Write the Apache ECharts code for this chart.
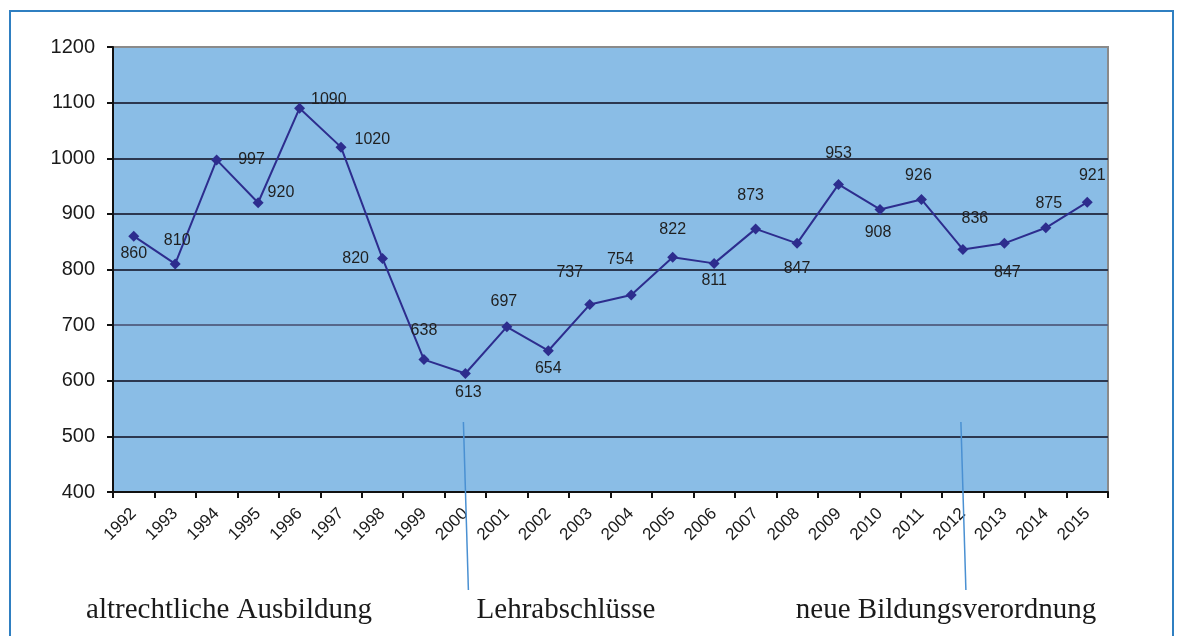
<!DOCTYPE html>
<html>
<head>
<meta charset="utf-8">
<script src="https://cdn.jsdelivr.net/npm/echarts@6/dist/echarts.min.js"></script>
<style>
html,body{margin:0;padding:0;background:#fff;}
#chart{width:1178px;height:636px;}
</style>
</head>
<body>
<div id="chart"></div>
<script>
// ---- data ----
var years = ['1992','1993','1994','1995','1996','1997','1998','1999','2000','2001','2002','2003','2004','2005','2006','2007','2008','2009','2010','2011','2012','2013','2014','2015'];
var values = [860, 810, 997, 920, 1090, 1020, 820, 638, 613, 697, 654, 737, 754, 822, 811, 873, 847, 953, 908, 926, 836, 847, 875, 921];
var yTicks = [400, 500, 600, 700, 800, 900, 1000, 1100, 1200];
var annotationYears = ['2000', '2012'];
var bottomTexts = ['altrechtliche Ausbildung', 'Lehrabschlüsse', 'neue Bildungsverordnung'];

// ---- label styling (placement only) ----
var labelStyle = [
  {position:'bottom', distance:4, offset:[0,0]},
  {position:'top', distance:10, offset:[2,0]},
  {position:'right', distance:16, offset:[0,0]},
  {position:'right', distance:4, offset:[0,-10]},
  {position:'right', distance:6, offset:[0,-9]},
  {position:'right', distance:8, offset:[0,-8]},
  {position:'left', distance:8, offset:[0,0]},
  {position:'top', distance:16, offset:[0,0]},
  {position:'bottom', distance:6, offset:[3,0]},
  {position:'top', distance:12, offset:[-3,0]},
  {position:'bottom', distance:4, offset:[0,0]},
  {position:'top', distance:18, offset:[-20,0]},
  {position:'top', distance:22, offset:[-11,0]},
  {position:'top', distance:14, offset:[0,0]},
  {position:'bottom', distance:4, offset:[0,0]},
  {position:'top', distance:20, offset:[-5,0]},
  {position:'bottom', distance:12, offset:[0,0]},
  {position:'top', distance:17, offset:[0,0]},
  {position:'bottom', distance:10, offset:[-2,0]},
  {position:'top', distance:10, offset:[-3,0]},
  {position:'top', distance:17, offset:[12,0]},
  {position:'bottom', distance:16, offset:[3,0]},
  {position:'top', distance:11, offset:[3,0]},
  {position:'top', distance:13, offset:[5,0]}
];

var seriesData = values.map(function(v, i){
  var s = labelStyle[i];
  return {value: v, label: {position: s.position, distance: s.distance, offset: s.offset}};
});

var chart = echarts.init(document.getElementById('chart'), null, {renderer:'canvas'});
var gridLeft = 113, gridTop = 47, gridRight = 70, gridBottom = 144;

var option = {
  animation: false,
  backgroundColor: '#ffffff',
  grid: {left: gridLeft, top: gridTop, right: gridRight, bottom: gridBottom, show: true,
         backgroundColor: '#8abde6', borderColor: '#8a8a8a', borderWidth: 2},
  xAxis: {
    type: 'category',
    data: years,
    boundaryGap: true,
    axisLine: {show: true, lineStyle: {color: '#111', width: 2}},
    axisTick: {show: true, alignWithLabel: false, length: 6, lineStyle: {color: '#111', width: 2}},
    axisLabel: {rotate: 45, interval: 0, margin: 19, fontFamily: 'Liberation Sans', fontSize: 17, color: '#1a1a1a'},
    splitLine: {show: false}
  },
  yAxis: {
    type: 'value',
    min: yTicks[0],
    max: yTicks[yTicks.length - 1],
    interval: 100,
    axisLine: {show: true, lineStyle: {color: '#111', width: 2}},
    axisTick: {show: true, length: 6, lineStyle: {color: '#111', width: 2}},
    axisLabel: {margin: 18, fontFamily: 'Liberation Sans', fontSize: 20, color: '#1a1a1a',
                formatter: function(v){ return String(v); }},
    splitLine: {show: true, lineStyle: {width: 2,
      color: ['#2c3850', '#2c3850', '#2c3850', '#56678a', '#2c3850', '#2c3850', '#2c3850', '#2c3850', '#8a8a8a']}}
  },
  series: [{
    type: 'line',
    data: seriesData,
    symbol: 'diamond',
    symbolSize: 11,
    lineStyle: {color: '#2d2d8e', width: 2},
    itemStyle: {color: '#2d2d8e'},
    label: {show: true, fontFamily: 'Liberation Sans', fontSize: 16, color: '#1f1f1f'},
    z: 5
  }]
};
chart.setOption(option);

// annotations computed from axis scales
var gfx = [];
gfx.push({type: 'rect', shape: {x: 10, y: 11, width: 1163, height: 700},
  style: {fill: 'none', stroke: '#2f7fc1', lineWidth: 2}, z: 100});
annotationYears.forEach(function(yr){
  var top = chart.convertToPixel({gridIndex: 0}, [yr, 526]);
  gfx.push({type: 'line', shape: {x1: top[0] - 2, y1: top[1], x2: top[0] + 3, y2: 590},
    style: {stroke: '#4a90d2', lineWidth: 1.5}, z: 100});
});
var textCenters = [229, 566, 946];
bottomTexts.forEach(function(t, i){
  gfx.push({type: 'text', x: textCenters[i], y: 610,
    style: {text: t, fontFamily: 'Liberation Serif', fontSize: 29, fill: '#1a1a1a',
            textAlign: 'center', textVerticalAlign: 'middle'}, z: 100});
});
chart.setOption({graphic: gfx});
</script>
</body>
</html>
